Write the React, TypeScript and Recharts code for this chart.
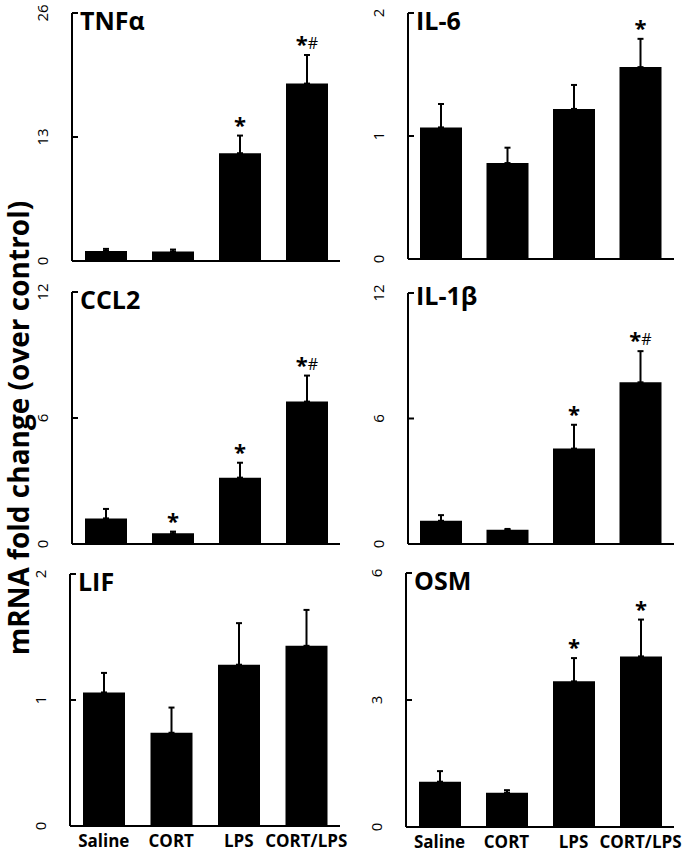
import React from 'react';
import { BarChart, Bar, XAxis, YAxis, ErrorBar, LabelList } from 'recharts';

const categories = ['Saline', 'CORT', 'LPS', 'CORT/LPS'];

const tnfMean = [1.05, 1.0, 11.3, 18.6];
const tnfErr = [0.22, 0.2, 1.85, 3.0];
const tnfSig = ['', '', '*', '*#'];

const il6Mean = [1.07, 0.78, 1.22, 1.56];
const il6Err = [0.19, 0.125, 0.195, 0.23];
const il6Sig = ['', '', '', '*'];

const ccl2Mean = [1.22, 0.51, 3.16, 6.78];
const ccl2Err = [0.45, 0.08, 0.71, 1.24];
const ccl2Sig = ['', '*', '*', '*#'];

const il1bMean = [1.11, 0.68, 4.56, 7.73];
const il1bErr = [0.27, 0.04, 1.14, 1.49];
const il1bSig = ['', '', '*', '*#'];

const lifMean = [1.06, 0.74, 1.28, 1.43];
const lifErr = [0.155, 0.2, 0.33, 0.285];
const lifSig = ['', '', '', ''];

const osmMean = [1.07, 0.81, 3.44, 4.03];
const osmErr = [0.25, 0.06, 0.55, 0.87];
const osmSig = ['', '', '*', '*'];

const FONT = "'Open Sans', sans-serif";

interface PanelProps {
  means: number[];
  errs: number[];
  sig: string[];
  ticks: number[];
  chartLeft: number;
  axisX: number;
  right: number;
  top: number;
  bottom: number;
  showLabels: boolean;
}

const YTick = (props: any) => {
  const { x, y, payload } = props;
  return (
    <g>
      <line x1={x} y1={y} x2={x + 6} y2={y} stroke="#000" strokeWidth={2} />
      <text
        x={x - 30}
        y={y}
        transform={`rotate(-90 ${x - 30} ${y})`}
        textAnchor="middle"
        dominantBaseline="central"
        fontSize={15}
        fontFamily={FONT}
        fill="#000"
      >
        {payload.value}
      </text>
    </g>
  );
};

const Panel: React.FC<PanelProps> = ({ means, errs, sig, ticks, chartLeft, axisX, right, top, bottom, showLabels }) => {
  const data = categories.map((c, i) => ({
    cat: c,
    value: means[i],
    err: [0, errs[i]],
    sig: sig[i],
  }));
  const marginTop = 15;
  const marginRight = 14;
  const xH = showLabels ? 32 : 14;
  const width = right - chartLeft + marginRight;
  const height = marginTop + (bottom - top) + xH;

  const renderSig = (props: any) => {
    const { index, value } = props;
    if (!value) return null;
    const vb = props.viewBox ?? props;
    const x = vb.x ?? props.x;
    const y = vb.y ?? props.y;
    const w = vb.width ?? props.width;
    const h = vb.height ?? props.height;
    const pxPerUnit = h / means[index];
    const errTop = y - errs[index] * pxPerUnit;
    const cx = x + w / 2;
    const base = errTop - 3;
    if (value === '*#') {
      return (
        <text x={cx} y={base} textAnchor="middle" fontFamily={FONT} fill="#000">
          <tspan fontSize={22} fontWeight={700}>*</tspan>
          <tspan fontSize={16} fontWeight={400} dy={-3}>#</tspan>
        </text>
      );
    }
    return (
      <text x={cx} y={base} textAnchor="middle" fontFamily={FONT} fontSize={22} fontWeight={700} fill="#000">
        {value}
      </text>
    );
  };

  return (
    <div style={{ position: 'absolute', left: chartLeft, top: top - marginTop }}>
      <BarChart width={width} height={height} data={data} margin={{ top: marginTop, right: marginRight, left: 0, bottom: 0 }}>
        <XAxis
          dataKey="cat"
          height={xH}
          axisLine={{ stroke: '#000', strokeWidth: 2 }}
          tickLine={false}
          tickSize={0}
          tickMargin={9}
          interval={0}
          tick={showLabels ? { fill: '#000', fontSize: 17, fontWeight: 700, fontFamily: FONT } : false}
        />
        <YAxis
          width={axisX - chartLeft}
          domain={[0, ticks[ticks.length - 1]]}
          ticks={ticks}
          axisLine={{ stroke: '#000', strokeWidth: 2 }}
          tickLine={false}
          tickSize={0}
          tickMargin={0}
          tick={<YTick />}
          interval={0}
        />
        <Bar dataKey="value" fill="#000" barSize={42} isAnimationActive={false}>
          <ErrorBar dataKey="err" width={3} stroke="#000" strokeWidth={2} direction="y" isAnimationActive={false} />
          <LabelList dataKey="sig" content={renderSig} />
        </Bar>
      </BarChart>
    </div>
  );
};

const titles = [
  { text: 'TNFα', x: 80, y: 30 },
  { text: 'IL-6', x: 416, y: 30 },
  { text: 'CCL2', x: 80, y: 309 },
  { text: 'IL-1β', x: 416, y: 305 },
  { text: 'LIF', x: 78, y: 591 },
  { text: 'OSM', x: 414, y: 590 },
];

export default function App() {
  return (
    <div style={{ position: 'absolute', left: 0, top: 0, width: 689, height: 856, background: '#fff', fontFamily: FONT }}>
      <Panel means={tnfMean} errs={tnfErr} sig={tnfSig} ticks={[0, 13, 26]} chartLeft={0} axisX={72} right={340} top={13} bottom={261} showLabels={false} />
      <Panel means={il6Mean} errs={il6Err} sig={il6Sig} ticks={[0, 1, 2]} chartLeft={345} axisX={408} right={674} top={13} bottom={259} showLabels={false} />
      <Panel means={ccl2Mean} errs={ccl2Err} sig={ccl2Sig} ticks={[0, 6, 12]} chartLeft={0} axisX={72} right={340} top={292} bottom={544} showLabels={false} />
      <Panel means={il1bMean} errs={il1bErr} sig={il1bSig} ticks={[0, 6, 12]} chartLeft={345} axisX={408} right={674} top={293} bottom={544} showLabels={false} />
      <Panel means={lifMean} errs={lifErr} sig={lifSig} ticks={[0, 1, 2]} chartLeft={0} axisX={70} right={340} top={574} bottom={826} showLabels={true} />
      <Panel means={osmMean} errs={osmErr} sig={osmSig} ticks={[0, 3, 6]} chartLeft={345} axisX={406} right={674} top={573} bottom={827} showLabels={true} />
      <svg width={689} height={856} style={{ position: 'absolute', left: 0, top: 0, pointerEvents: 'none' }}>
        {titles.map((t) => (
          <text key={t.text} x={t.x} y={t.y} fontSize={25} fontWeight={700} fontFamily={FONT} fill="#000">
            {t.text}
          </text>
        ))}
        <text
          x={18}
          y={428}
          transform="rotate(-90 18 428)"
          textAnchor="middle"
          dominantBaseline="central"
          fontSize={28}
          fontWeight={700}
          fontFamily={FONT}
          fill="#000"
        >
          mRNA fold change (over control)
        </text>
      </svg>
    </div>
  );
}
